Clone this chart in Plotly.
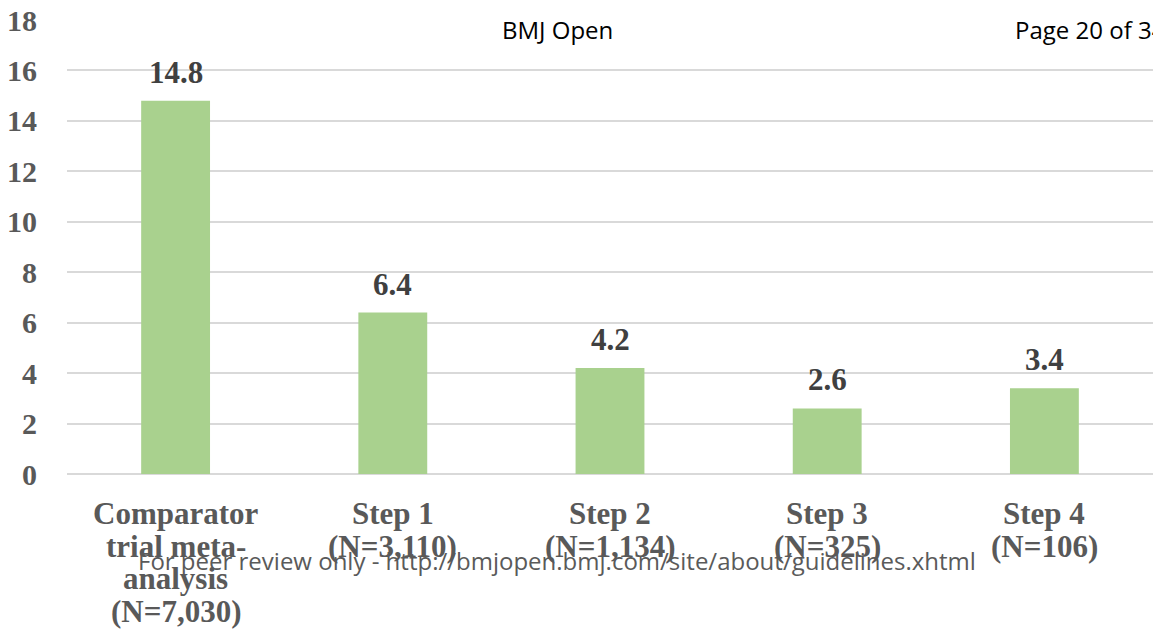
import plotly.graph_objects as go

# ---- data ----
categories = ["Comparator trial meta-analysis (N=7,030)", "Step 1 (N=3,110)",
              "Step 2 (N=1,134)", "Step 3 (N=325)", "Step 4 (N=106)"]
category_lines = [["Comparator", "trial meta-", "analysis", "(N=7,030)"],
                  ["Step 1", "(N=3,110)"],
                  ["Step 2", "(N=1,134)"],
                  ["Step 3", "(N=325)"],
                  ["Step 4", "(N=106)"]]
values = [14.8, 6.4, 4.2, 2.6, 3.4]
value_labels = ["14.8", "6.4", "4.2", "2.6", "3.4"]
y_ticks = [0, 2, 4, 6, 8, 10, 12, 14, 16, 18]

W, H = 1153, 635
ML, MR, MT, MB = 67, 0, 20, 161
PW, PH = W - ML - MR, H - MT - MB

def xp(px):
    return (px - ML) / PW

def yp(py):
    return (H - MB - py) / PH

SERIF = "Liberation Serif, Times New Roman, serif"
SANS = "Open Sans, Noto Sans, sans-serif"

fig = go.Figure()
fig.add_trace(go.Bar(
    x=categories, y=values,
    marker=dict(color="#A9D18E", line=dict(width=0)),
    width=0.317, hoverinfo="skip",
))

annotations = []
# data labels
for c, v, t in zip(categories, values, value_labels):
    annotations.append(dict(x=c, y=v, xref="x", yref="y", text="<b>%s</b>" % t,
                            showarrow=False, yanchor="bottom", yshift=9,
                            font=dict(family=SERIF, size=31, color="#404040")))
# category labels, line by line
for c, lines in zip(categories, category_lines):
    for i, ln in enumerate(lines):
        annotations.append(dict(x=c, y=0, xref="x", yref="paper", text="<b>%s</b>" % ln,
                                showarrow=False, yanchor="top", xanchor="center",
                                yshift=-20 - 32.6 * i,
                                font=dict(family=SERIF, size=31, color="#595959")))
# page header / footer
annotations.append(dict(x=xp(557.5), y=yp(10.5), xref="paper", yref="paper", text="BMJ Open",
                        showarrow=False, xanchor="center", yanchor="top",
                        font=dict(family=SANS, size=24, color="#000000")))
annotations.append(dict(x=xp(1013), y=yp(10.5), xref="paper", yref="paper", text="Page 20 of 34",
                        showarrow=False, xanchor="left", yanchor="top",
                        font=dict(family=SANS, size=24, color="#000000")))
annotations.append(dict(x=xp(557), y=yp(542), xref="paper", yref="paper",
                        text="For peer review only - http://bmjopen.bmj.com/site/about/guidelines.xhtml",
                        showarrow=False, xanchor="center", yanchor="top",
                        font=dict(family=SANS, size=24, color="#5a5a5a")))

fig.update_layout(
    width=W, height=H, autosize=False,
    margin=dict(l=ML, r=MR, t=MT, b=MB, pad=0),
    paper_bgcolor="white", plot_bgcolor="white",
    showlegend=False, bargap=0.683,
    annotations=annotations,
)
fig.update_xaxes(showticklabels=False, showgrid=False, zeroline=False, showline=False,
                 ticks="", fixedrange=True)
fig.update_yaxes(range=[0, 18], tickvals=y_ticks, ticktext=["<b>%d</b>" % t for t in y_ticks],
                 showgrid=True, gridcolor="#d9d9d9", gridwidth=2,
                 zeroline=True, zerolinecolor="#d9d9d9", zerolinewidth=2,
                 showline=False, ticks="", ticklabelstandoff=29,
                 tickfont=dict(family=SERIF, size=30, color="#595959"), fixedrange=True)

fig.write_html("out.html", config={"displayModeBar": False},
               post_script="document.body.style.margin='0';document.body.style.overflow='hidden';")
